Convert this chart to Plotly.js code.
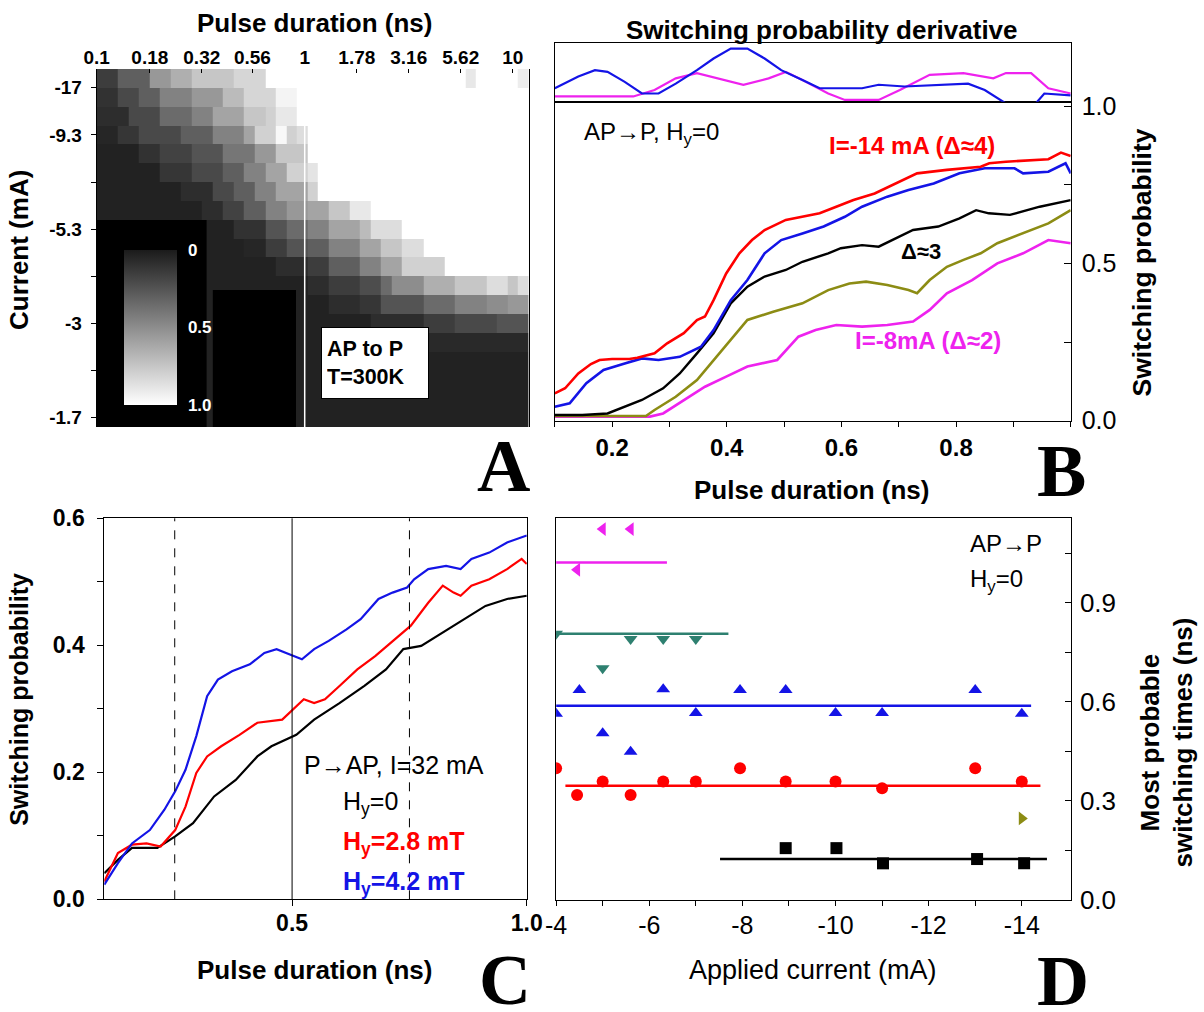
<!DOCTYPE html>
<html><head><meta charset="utf-8">
<script src="https://cdn.plot.ly/plotly-3.0.1.min.js"></script>
<style>html,body{margin:0;padding:0;background:#fff}#chart{width:1204px;height:1012px}</style>
</head><body><div id="chart"></div>
<script>
// ---------------- Panel A : switching probability map ----------------
const durTickVals = [0.1, 0.18, 0.32, 0.56, 1, 1.78, 3.16, 5.62, 10];
const durTickText = ['0.1', '0.18', '0.32', '0.56', '1', '1.78', '3.16', '5.62', '10'];
const pulseLogRange = [-1, 1.076];            // log10 of pulse duration (ns) spanned by the map
const currentTickRows = [0.5, 3, 5.5, 8, 10.5, 13, 15.5, 18];
const currentTickText = ['-17', '-9.3', '', '-5.3', '', '-3', '', '-1.7'];
// each row (top = largest |I|) as runs of [probability, number of pulse-duration columns]
const heatRuns = [
  [[0.15,2],[0.3,3],[0.55,2],[0.65,2],[0.75,4],[0.82,3],[1,19],[0.9,1],[1,4],[0.92,1]],
  [[0.1,2],[0.2,2],[0.3,2],[0.45,3],[0.55,3],[0.7,2],[0.82,3],[0.95,2],[1,22]],
  [[0.08,3],[0.2,3],[0.35,3],[0.45,2],[0.6,3],[0.75,2],[0.8,1],[0.9,2],[1,22]],
  [[0.05,2],[0.12,2],[0.2,4],[0.3,3],[0.45,3],[0.6,1],[0.8,2],[0.97,1],[0.8,1],[0.85,1],[1,21]],
  [[0.03,4],[0.1,2],[0.17,3],[0.25,3],[0.4,3],[0.55,2],[0.75,3],[1,21]],
  [[0.03,6],[0.12,3],[0.2,3],[0.3,2],[0.45,2],[0.6,2],[0.8,2],[0.88,1],[1,20]],
  [[0.03,8],[0.08,3],[0.2,2],[0.3,2],[0.45,2],[0.6,3],[0.8,1],[1,20]],
  [[0.03,10],[0.08,2],[0.17,2],[0.3,2],[0.45,2],[0.55,2],[0.6,2],[0.75,2],[0.9,2],[1,15]],
  [[0.03,13],[0.1,3],[0.25,2],[0.35,2],[0.45,2],[0.6,3],[0.7,1],[0.85,3],[1,12]],
  [[0.03,14],[0.05,2],[0.15,2],[0.25,2],[0.3,2],[0.45,3],[0.6,2],[0.75,2],[0.85,2],[1,10]],
  [[0.03,17],[0.08,3],[0.15,2],[0.3,3],[0.45,2],[0.6,2],[0.8,4],[1,8]],
  [[0.03,20],[0.08,2],[0.15,3],[0.22,2],[0.35,1],[0.5,3],[0.65,3],[0.75,3],[0.85,2],[0.75,1],[0.85,1]],
  [[0.03,22],[0.08,3],[0.12,2],[0.25,4],[0.35,3],[0.45,3],[0.5,2],[0.55,2]],
  [[0.03,26],[0.08,5],[0.15,3],[0.2,4],[0.25,3]],
  [[0.03,31],[0.06,10]],
  [[0.03,41]],
  [[0.03,41]],
  [[0.03,41]],
  [[0.03,41]]
];
const colorbarTickVals = [-1, -0.5, 0];
const colorbarTickText = ['1.0', '0.5', '0'];

// ---------------- Panel B : AP->P switching probability vs pulse duration ----------------
const bRedX = [0.100,0.118,0.141,0.163,0.178,0.200,0.230,0.244,0.274,0.296,0.325,0.348,0.362,0.377,0.399,0.422,0.444,0.466,0.503,0.532,0.562,0.591,0.621,0.658,0.695,0.732,0.784,0.843,0.858,0.887,0.961,0.983,1.000];
const bRedY = [0.087,0.103,0.150,0.180,0.193,0.196,0.196,0.200,0.214,0.246,0.278,0.320,0.331,0.383,0.468,0.532,0.574,0.606,0.638,0.648,0.659,0.680,0.701,0.722,0.754,0.786,0.797,0.807,0.818,0.823,0.831,0.852,0.841];
const bBlueX = [0.100,0.126,0.155,0.185,0.222,0.252,0.281,0.318,0.355,0.377,0.407,0.436,0.466,0.495,0.532,0.569,0.606,0.636,0.680,0.717,0.761,0.806,0.850,0.902,0.917,0.961,0.991,1.000];
const bBlueY = [0.044,0.055,0.119,0.161,0.182,0.198,0.193,0.203,0.235,0.288,0.383,0.447,0.532,0.574,0.595,0.617,0.648,0.680,0.712,0.733,0.754,0.786,0.802,0.802,0.786,0.791,0.818,0.786];
const bBlackX = [0.100,0.148,0.192,0.222,0.252,0.289,0.318,0.348,0.377,0.407,0.436,0.466,0.503,0.532,0.577,0.599,0.636,0.665,0.695,0.725,0.769,0.806,0.835,0.857,0.894,0.946,1.000];
const bBlackY = [0.018,0.018,0.023,0.044,0.066,0.103,0.150,0.214,0.278,0.373,0.426,0.458,0.479,0.505,0.532,0.548,0.558,0.553,0.579,0.606,0.617,0.643,0.669,0.659,0.654,0.680,0.701];
const bOliveX = [0.100,0.259,0.274,0.311,0.348,0.377,0.407,0.436,0.481,0.532,0.577,0.614,0.643,0.680,0.717,0.732,0.754,0.784,0.813,0.843,0.872,0.917,0.961,1.000];
const bOliveY = [0.015,0.015,0.034,0.076,0.129,0.193,0.256,0.320,0.346,0.373,0.415,0.436,0.442,0.431,0.415,0.405,0.447,0.489,0.511,0.532,0.564,0.595,0.627,0.669];
const bMagentaX = [0.100,0.266,0.289,0.325,0.362,0.399,0.436,0.488,0.525,0.555,0.591,0.636,0.680,0.725,0.754,0.784,0.828,0.872,0.917,0.961,1.000];
const bMagentaY = [0.013,0.013,0.023,0.066,0.108,0.140,0.172,0.193,0.267,0.288,0.304,0.299,0.304,0.315,0.352,0.405,0.447,0.500,0.532,0.574,0.564];
// derivative strip (arbitrary units)
const dBlueX = [0.100,0.141,0.170,0.192,0.222,0.252,0.281,0.311,0.348,0.377,0.407,0.436,0.466,0.495,0.532,0.562,0.636,0.665,0.710,0.784,0.821,0.850,0.887,0.939,0.954,1.000];
const dBlueY = [0.23,0.43,0.54,0.51,0.34,0.14,0.14,0.31,0.54,0.74,0.91,0.91,0.74,0.54,0.37,0.23,0.23,0.29,0.26,0.29,0.31,0.20,-0.03,-0.03,0.14,0.11];
const dMagentaX = [0.100,0.237,0.274,0.311,0.348,0.385,0.429,0.473,0.503,0.532,0.577,0.606,0.665,0.702,0.725,0.754,0.813,0.865,0.887,0.931,0.961,1.000];
const dMagentaY = [0.09,0.09,0.20,0.40,0.49,0.40,0.29,0.40,0.51,0.37,0.14,0.03,0.03,0.20,0.31,0.46,0.49,0.40,0.49,0.49,0.23,0.14];
const bXTickVals = [0.1,0.2,0.3,0.4,0.5,0.6,0.7,0.8,0.9,1.0];
const bXTickText = ['','0.2','','0.4','','0.6','','0.8','',''];
const bYTickVals = [0,0.25,0.5,0.75,1.0];
const bYTickText = ['0.0','','0.5','','1.0'];

// ---------------- Panel C : P->AP, I=32 mA ----------------
const cBlueX = [0.100,0.129,0.159,0.197,0.228,0.251,0.273,0.296,0.319,0.342,0.372,0.410,0.441,0.467,0.494,0.521,0.547,0.578,0.616,0.646,0.684,0.714,0.745,0.760,0.790,0.828,0.859,0.882,0.920,0.958,1.000];
const cBlueY = [0.023,0.057,0.088,0.109,0.141,0.170,0.204,0.257,0.320,0.346,0.359,0.370,0.388,0.394,0.386,0.378,0.394,0.407,0.425,0.441,0.473,0.483,0.491,0.504,0.520,0.525,0.520,0.536,0.546,0.562,0.573];
const cRedX = [0.100,0.129,0.159,0.190,0.220,0.251,0.273,0.296,0.319,0.349,0.388,0.426,0.479,0.502,0.525,0.547,0.570,0.601,0.639,0.677,0.714,0.753,0.790,0.821,0.844,0.859,0.882,0.920,0.958,0.989,1.000];
const cRedY = [0.028,0.073,0.086,0.088,0.083,0.109,0.146,0.199,0.225,0.241,0.259,0.278,0.283,0.299,0.315,0.309,0.315,0.336,0.362,0.383,0.407,0.431,0.467,0.494,0.483,0.478,0.494,0.504,0.520,0.536,0.528];
const cBlackX = [0.100,0.129,0.159,0.213,0.251,0.289,0.334,0.380,0.426,0.456,0.509,0.547,0.601,0.654,0.700,0.737,0.775,0.821,0.867,0.912,0.958,1.000];
const cBlackY = [0.041,0.062,0.081,0.081,0.099,0.120,0.162,0.188,0.225,0.241,0.259,0.283,0.309,0.336,0.362,0.394,0.399,0.420,0.441,0.462,0.473,0.478];
const cGuideX = [0.25, 0.5, 0.75];
const cGuideDash = ['dash', 'solid', 'dash'];
const cYTickVals = [0,0.1,0.2,0.3,0.4,0.5,0.6];
const cYTickText = ['0.0','','0.2','','0.4','','0.6'];

// ---------------- Panel D : most probable switching times ----------------
const dMagPtsX = [-5.0, -5.6, -4.45];
const dMagPtsY = [1.123, 1.123, 1.000];
const dTealPtsX = [-4.0, -5.6, -6.3, -7.0, -5.0];
const dTealPtsY = [0.806, 0.790, 0.790, 0.790, 0.702];
const dBluePtsX = [-4.0, -4.5, -5.0, -5.6, -6.3, -7.0, -7.95, -8.93, -10.0, -11.0, -13.0, -14.0];
const dBluePtsY = [0.564, 0.636, 0.505, 0.449, 0.638, 0.566, 0.636, 0.636, 0.566, 0.566, 0.636, 0.564];
const dRedPtsX = [-4.0, -4.45, -5.0, -5.6, -6.3, -7.0, -7.95, -8.93, -10.0, -11.0, -13.0, -14.0];
const dRedPtsY = [0.399, 0.318, 0.359, 0.318, 0.359, 0.359, 0.399, 0.359, 0.359, 0.338, 0.399, 0.359];
const dOlivePtsX = [-14.0];
const dOlivePtsY = [0.247];
const dBlackPtsX = [-8.93, -10.02, -11.02, -13.04, -14.05];
const dBlackPtsY = [0.157, 0.157, 0.111, 0.124, 0.111];
// horizontal guide levels: [start current, end current, level]
const dMagFit = [-4.0, -6.38, 1.022];
const dTealFit = [-4.0, -7.7, 0.806];
const dBlueFit = [-4.0, -14.2, 0.588];
const dRedFit = [-4.2, -14.4, 0.346];
const dBlackFit = [-7.52, -14.54, 0.124];
const dXTickVals = [-4,-5,-6,-7,-8,-9,-10,-11,-12,-13,-14];
const dXTickText = ['-4','','-6','','-8','','-10','','-12','','-14'];
const dYTickVals = [0,0.15,0.3,0.45,0.6,0.75,0.9,1.05];
const dYTickText = ['0.0','','0.3','','0.6','','0.9',''];

// ---------------- build ----------------
const W = 1204, H = 1012;
const px = v => v / W, py = v => 1 - v / H;
const SANS = 'Liberation Sans, Arial, Helvetica, sans-serif';
const SERIF = 'Liberation Serif, Times New Roman, serif';
const fnt = (size, color, bold) => ({family: SANS, size: size, color: color || '#000', weight: bold ? 'bold' : 'normal'});

const heatP = heatRuns.map(row => { const out = []; row.forEach(([v, n]) => { for (let i = 0; i < n; i++) out.push(v); }); return out; });
const nCols = heatP[0].length;
const colEdges = [];
for (let k = 0; k <= nCols; k++) colEdges.push(Math.pow(10, pulseLogRange[0] + k * (pulseLogRange[1] - pulseLogRange[0]) / nCols));
const rowIdx = heatP.map((_, i) => i);

const line = (x, y, color, w, xa, ya) => ({type: 'scatter', mode: 'lines', x: x, y: y, xaxis: xa, yaxis: ya,
  line: {color: color, width: w}, hoverinfo: 'skip'});
const pts = (x, y, color, symbol) => ({type: 'scatter', mode: 'markers', x: x, y: y, xaxis: 'x5', yaxis: 'y5',
  marker: {color: color, symbol: symbol, size: 12, line: {width: 0}}, hoverinfo: 'skip'});
const fit = (f, color) => ({type: 'scatter', mode: 'lines', x: [f[0], f[1]], y: [f[2], f[2]], xaxis: 'x5', yaxis: 'y5',
  line: {color: color, width: 2.6}, hoverinfo: 'skip'});

const RED = '#ff0000', BLUE = '#1414e6', OLIVE = '#8c8c14', MAG = '#ee22ee', TEAL = '#2e8070';

const traces = [
  {type: 'heatmap', x: colEdges, y: rowIdx, z: heatP.map(r => r.map(v => -v)), zmin: -1, zmax: 0,
   colorscale: [[0, '#ffffff'], [1, '#1b1b1b']], xaxis: 'x', yaxis: 'y', hoverinfo: 'skip',
   colorbar: {x: px(124), xanchor: 'left', xpad: 0, y: py(250), yanchor: 'top', ypad: 0,
     len: 155, lenmode: 'pixels', thickness: 53, thicknessmode: 'pixels', outlinewidth: 0,
     tickvals: colorbarTickVals, ticktext: colorbarTickText, ticks: 'outside', ticklen: 8,
     tickcolor: 'rgba(0,0,0,0)', tickfont: fnt(17, '#ffffff', true), bgcolor: 'rgba(0,0,0,0)', borderwidth: 0}},
  line(bMagentaX, bMagentaY, MAG, 2.6, 'x2', 'y2'),
  line(bOliveX, bOliveY, OLIVE, 2.6, 'x2', 'y2'),
  line(bBlackX, bBlackY, '#000', 2.4, 'x2', 'y2'),
  line(bBlueX, bBlueY, BLUE, 2.6, 'x2', 'y2'),
  line(bRedX, bRedY, RED, 2.6, 'x2', 'y2'),
  line(dMagentaX, dMagentaY, MAG, 2.2, 'x3', 'y3'),
  line(dBlueX, dBlueY, BLUE, 2.2, 'x3', 'y3'),
  line(cBlackX, cBlackY, '#000', 2.2, 'x4', 'y4'),
  line(cRedX, cRedY, RED, 2.2, 'x4', 'y4'),
  line(cBlueX, cBlueY, BLUE, 2.2, 'x4', 'y4'),
  fit(dMagFit, MAG), fit(dTealFit, TEAL), fit(dBlueFit, BLUE), fit(dRedFit, RED), fit(dBlackFit, '#000'),
  pts(dMagPtsX, dMagPtsY, MAG, 'triangle-left'),
  pts(dTealPtsX, dTealPtsY, TEAL, 'triangle-down'),
  pts(dBluePtsX, dBluePtsY, BLUE, 'triangle-up'),
  pts(dRedPtsX, dRedPtsY, RED, 'circle'),
  pts(dOlivePtsX, dOlivePtsY, OLIVE, 'triangle-right'),
  pts(dBlackPtsX, dBlackPtsY, '#000', 'square')
];

const baseAx = {showgrid: false, zeroline: false, linecolor: '#000', linewidth: 1, tickcolor: '#000', tickwidth: 1, fixedrange: true};
const logRange = pulseLogRange;

const layout = {
  width: W, height: H, margin: {l: 0, r: 0, t: 0, b: 0}, paper_bgcolor: '#fff', plot_bgcolor: '#fff',
  showlegend: false, font: {family: SANS},
  // Panel A
  xaxis: Object.assign({}, baseAx, {domain: [px(96.7), px(528.6)], anchor: 'y', type: 'log', range: logRange, side: 'top',
    tickmode: 'array', tickvals: durTickVals, ticktext: durTickText, ticks: 'inside', ticklen: 4,
    showline: false, tickfont: fnt(19, '#000', true), ticklabelstandoff: 0}),
  xaxis6: Object.assign({}, baseAx, {overlaying: 'x', anchor: 'y', side: 'bottom', type: 'log', range: logRange,
    tickmode: 'array', tickvals: durTickVals.slice(1), ticks: 'outside', ticklen: 5, showticklabels: false, showline: false}),
  yaxis: Object.assign({}, baseAx, {domain: [py(427), py(69)], anchor: 'x', range: [18.5, -0.5],
    tickmode: 'array', tickvals: currentTickRows, ticktext: currentTickText, ticks: 'outside', ticklen: 5,
    showline: true, mirror: true, tickfont: fnt(19, '#000', true), ticklabelstandoff: 5}),
  // Panel B main
  xaxis2: Object.assign({}, baseAx, {domain: [px(554.8), px(1070.7)], anchor: 'y2', range: [0.1, 1.0],
    tickmode: 'array', tickvals: bXTickVals, ticktext: bXTickText, ticks: 'outside', ticklen: 5,
    showline: true, mirror: true, tickfont: fnt(24, '#000', true), ticklabelstandoff: 0}),
  yaxis2: Object.assign({}, baseAx, {domain: [py(420.7), py(101.7)], anchor: 'x2', side: 'right', range: [0, 1.0137],
    tickmode: 'array', tickvals: bYTickVals, ticktext: bYTickText, ticks: 'inside', ticklen: 7,
    showline: true, mirror: true, tickfont: fnt(25, '#000', false), ticklabelstandoff: 5}),
  yaxis6: Object.assign({}, baseAx, {overlaying: 'y2', anchor: 'x2', side: 'left', range: [0, 1.0137],
    tickmode: 'array', tickvals: bYTickVals, ticks: 'outside', ticklen: 6, showticklabels: false, showline: false}),
  // Panel B derivative strip
  xaxis3: Object.assign({}, baseAx, {domain: [px(554.8), px(1070.7)], anchor: 'y3', range: [0.1, 1.0],
    showticklabels: false, ticks: '', showline: true, mirror: true}),
  yaxis3: Object.assign({}, baseAx, {domain: [py(101.7), py(43.3)], anchor: 'x3', range: [0, 1],
    showticklabels: false, ticks: '', showline: true, mirror: true}),
  // Panel C
  xaxis4: Object.assign({}, baseAx, {domain: [px(104.3), px(526.8)], anchor: 'y4', range: [0.1, 1.0],
    tickmode: 'array', tickvals: [0.5, 1.0], ticktext: ['0.5', '1.0'], ticks: 'outside', ticklen: 6,
    showline: true, mirror: true, tickfont: fnt(23, '#000', true), ticklabelstandoff: -3}),
  yaxis4: Object.assign({}, baseAx, {domain: [py(899.3), py(518.3)], anchor: 'x4', range: [0, 0.6],
    tickmode: 'array', tickvals: cYTickVals, ticktext: cYTickText, ticks: 'outside', ticklen: 6,
    showline: true, mirror: true, tickfont: fnt(23, '#000', true), ticklabelstandoff: 8}),
  // Panel D
  xaxis5: Object.assign({}, baseAx, {domain: [px(556.1), px(1070.7)], anchor: 'y5', range: [-4, -15.05],
    tickmode: 'array', tickvals: dXTickVals, ticktext: dXTickText, ticks: 'outside', ticklen: 5,
    showline: true, mirror: true, tickfont: fnt(25, '#000', false), ticklabelstandoff: -2}),
  yaxis5: Object.assign({}, baseAx, {domain: [py(900), py(518.3)], anchor: 'x5', side: 'right', range: [0, 1.1556],
    tickmode: 'array', tickvals: dYTickVals, ticktext: dYTickText, ticks: 'inside', ticklen: 6,
    showline: true, mirror: true, tickfont: fnt(26, '#000', false), ticklabelstandoff: 3}),
  yaxis7: Object.assign({}, baseAx, {overlaying: 'y5', anchor: 'x5', side: 'left', range: [0, 1.1556],
    tickmode: 'array', tickvals: dYTickVals, ticks: 'outside', ticklen: 6, showticklabels: false, showline: false}),
  shapes: [
    {type: 'rect', xref: 'paper', yref: 'paper', x0: px(96.7), x1: px(206.6), y0: py(427), y1: py(220),
     fillcolor: '#000', line: {width: 0}, layer: 'above'},
    {type: 'rect', xref: 'paper', yref: 'paper', x0: px(212.8), x1: px(296), y0: py(427), y1: py(290),
     fillcolor: '#000', line: {width: 0}, layer: 'above'},
    {type: 'line', xref: 'paper', yref: 'paper', x0: px(304.7), x1: px(304.7), y0: py(427), y1: py(69),
     line: {color: '#ffffff', width: 1.5}, layer: 'above'}
  ].concat(cGuideX.map((g, i) => ({type: 'line', xref: 'x4', yref: 'y4 domain', x0: g, x1: g, y0: 0, y1: 1,
     line: {color: '#000', width: 1, dash: cGuideDash[i]}, layer: 'above'}))),
  annotations: []
};

const ann = (text, x, y, font, extra) => Object.assign({text: text, xref: 'paper', yref: 'paper', x: px(x), y: py(y),
  showarrow: false, font: font, xanchor: 'center', yanchor: 'middle'}, extra || {});
layout.annotations = [
  ann('Pulse duration (ns)', 314, 23, fnt(26, '#000', true)),
  ann('Current (mA)', 19, 250, fnt(26, '#000', true), {textangle: -90}),
  ann('AP to P<br>T=300K', 374.9, 363, fnt(21.5, '#000', true), {align: 'left', bgcolor: '#fff', bordercolor: '#000',
    borderwidth: 1, borderpad: 5, width: 96, height: 60}),
  ann('Switching probability derivative', 821.6, 30, fnt(26, '#000', true)),
  ann('Pulse duration (ns)', 811, 490, fnt(26, '#000', true)),
  ann('Switching probability', 1141.5, 263, fnt(26.5, '#000', true), {textangle: -90}),
  ann('AP→P, H<sub>y</sub>=0', 582, 133, fnt(24, '#000', false), {xanchor: 'left'}),
  ann('I=-14 mA (Δ≈4)', 911.6, 145.7, fnt(24, RED, true)),
  ann('Δ≈3', 921, 251.7, fnt(22, '#000', true)),
  ann('I=-8mA (Δ≈2)', 927.5, 340, fnt(24, MAG, true)),
  ann('Pulse duration (ns)', 314, 970, fnt(26, '#000', true)),
  ann('Switching probability', 18.8, 699, fnt(25, '#000', true), {textangle: -90}),
  ann('P→AP, I=32 mA', 301.8, 765, fnt(25, '#000', false), {xanchor: 'left'}),
  ann('H<sub>y</sub>=0', 341, 803, fnt(25, '#000', false), {xanchor: 'left'}),
  ann('H<sub>y</sub>=2.8 mT', 341, 843, fnt(25, RED, true), {xanchor: 'left'}),
  ann('H<sub>y</sub>=4.2 mT', 341, 883, fnt(25, BLUE, true), {xanchor: 'left'}),
  ann('Applied current (mA)', 813, 970, fnt(27, '#000', false)),
  ann('Most probable<br>switching times (ns)', 1166.5, 743, fnt(26, '#000', true), {textangle: -90}),
  ann('AP→P', 968, 543, fnt(24, '#000', false), {xanchor: 'left'}),
  ann('H<sub>y</sub>=0', 968, 580, fnt(24, '#000', false), {xanchor: 'left'}),
  ann('A', 503.5, 466, {family: SERIF, size: 74, color: '#000', weight: 'bold'}),
  ann('B', 1061.5, 471, {family: SERIF, size: 74, color: '#000', weight: 'bold'}),
  ann('C', 505, 980, {family: SERIF, size: 72, color: '#000', weight: 'bold'}),
  ann('D', 1062.5, 981, {family: SERIF, size: 72, color: '#000', weight: 'bold'})
];

Plotly.newPlot('chart', traces, layout, {displayModeBar: false, staticPlot: true});
</script></body></html>
